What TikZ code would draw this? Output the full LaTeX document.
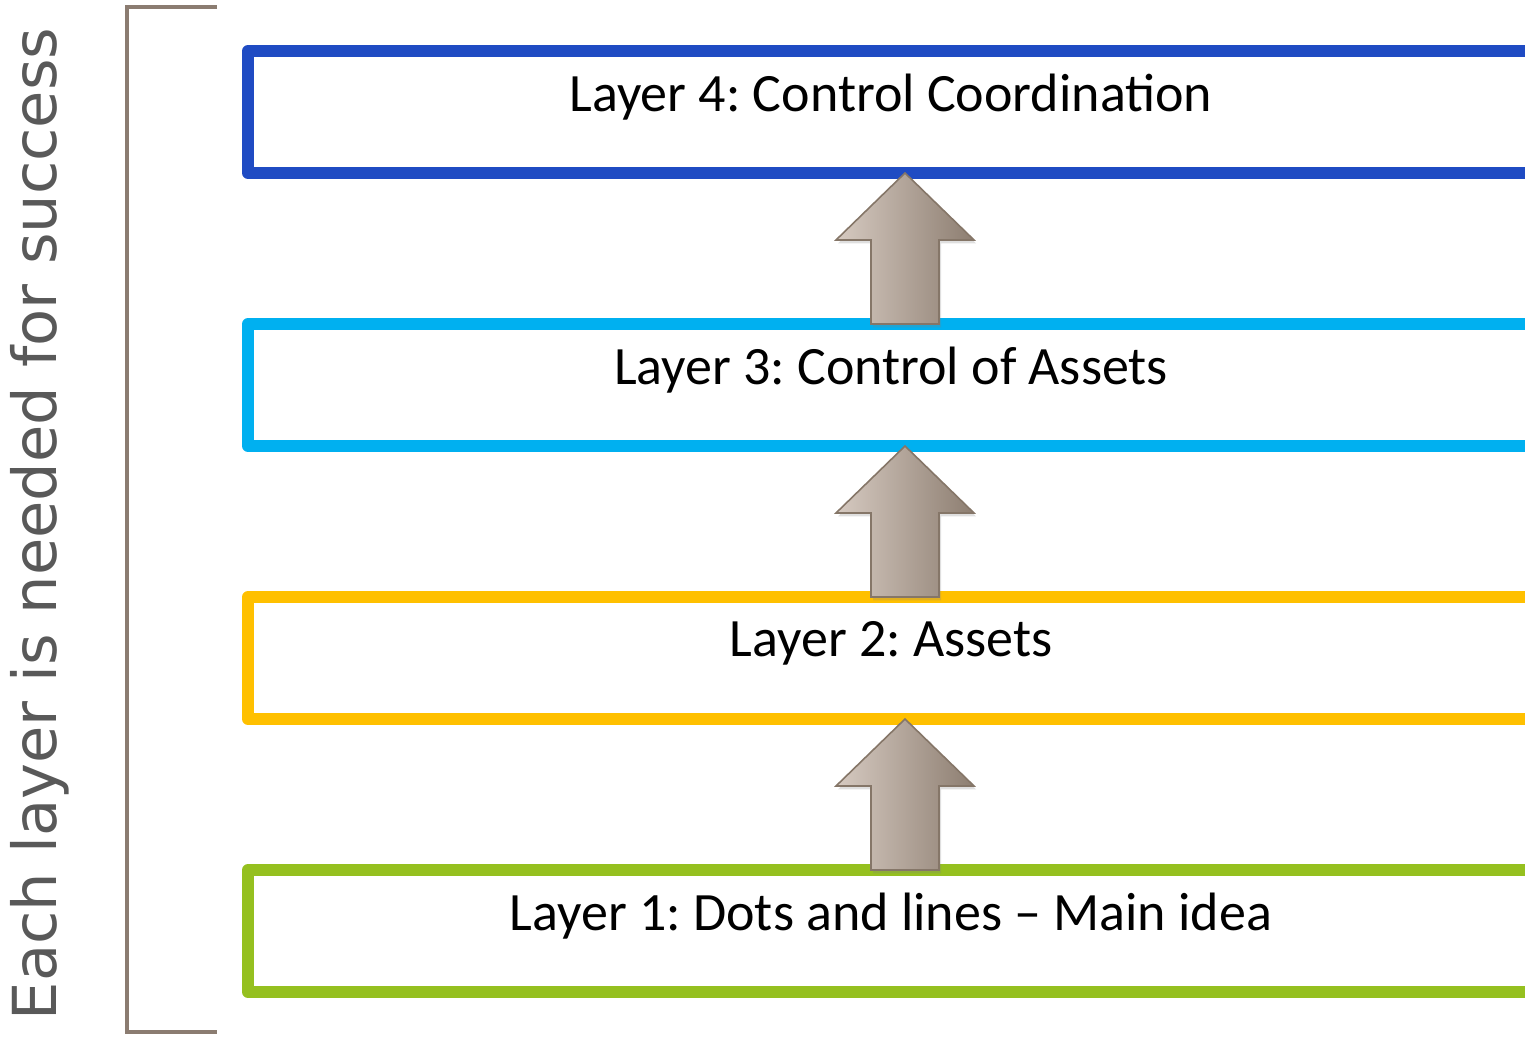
\documentclass[tikz,border=0pt]{standalone}
\usepackage{fontspec}
\setmainfont{Carlito}
\newfontfamily\sidefont{DejaVu Sans}
\usetikzlibrary{positioning,calc,shadows}
\frenchspacing

\definecolor{layerblue}{HTML}{1F4BC3}
\definecolor{layercyan}{HTML}{00B0F0}
\definecolor{layergold}{HTML}{FFC000}
\definecolor{layergreen}{HTML}{95C01F}
\definecolor{arrowlight}{HTML}{D6CAC1}
\definecolor{arrowdark}{HTML}{8D7E71}
\definecolor{arrowedge}{HTML}{857668}
\definecolor{bracketbrown}{HTML}{8B7C71}
\definecolor{sidegray}{HTML}{595959}

\tikzset{
  layerbox/.style={draw=#1, line width=9pt, line join=round, outer sep=0pt,
    minimum width=964.5pt, minimum height=91.5pt, inner sep=0pt},
  layertext/.style={font=\fontsize{40.5pt}{45pt}\selectfont},
  blockarrow/.style={left color=arrowlight, right color=arrowdark,
    draw=arrowedge, line width=1.2pt, line join=miter,
    drop shadow={opacity=0.25, shadow xshift=1.5pt, shadow yshift=-2.5pt}},
  bracketline/.style={draw=bracketbrown, line width=3pt},
  sidetext/.style={text=sidegray, font=\sidefont\fontsize{45.5pt}{50pt}\selectfont}
}

\begin{document}
\begin{tikzpicture}[x=0.75pt,y=-0.75pt]
  \useasboundingbox (0,0) rectangle (1525,1036);
  \clip (0,0) rectangle (1525,1036);

  % the four layers
  \node[layerbox=layerblue] (l4) at (891,112) {};
  \node[layerbox=layercyan, below=113.25pt of l4] (l3) {};
  \node[layerbox=layergold, below=113.25pt of l3] (l2) {};
  \node[layerbox=layergreen, below=113.25pt of l2] (l1) {};

  \node[layertext] (t4) at ($(l4.center)+(0,-15)$) {Layer 4: Control Coordination};
  \node[layertext] (t3) at ($(l3.center)+(0,-15)$) {Layer 3: Control of Assets};
  \node[layertext] (t2) at ($(l2.center)+(0,-15)$) {Layer 2: Assets};
  \node[layertext] (t1) at ($(l1.center)+(0,-15)$) {Layer 1: Dots and lines -- Main idea};

  % arrows between layers
  \foreach \lo/\hi in {l1/l2,l2/l3,l3/l4} {
    \coordinate (tip) at ($(\hi.south)+(14,0)$);
    \coordinate (base) at ($(\lo.north)+(14,0)$);
    \path[blockarrow] (tip) -- ++(69,67) -- ++(-35,0) |- ($(base)+(34,0)$)
      -- ++(-68,0) |- ($(tip)+(-69,67)$) -- cycle;
  }

  % bracket and side text
  \coordinate (btop) at (217,7);
  \coordinate (bbot) at (217,1032);
  \draw[bracketline] (btop) -- (127,7) -- (127,1032) -- (bbot);
  \node[sidetext, rotate=90] (side) at (40,524) {Each layer is needed for success};
\end{tikzpicture}
\end{document}
